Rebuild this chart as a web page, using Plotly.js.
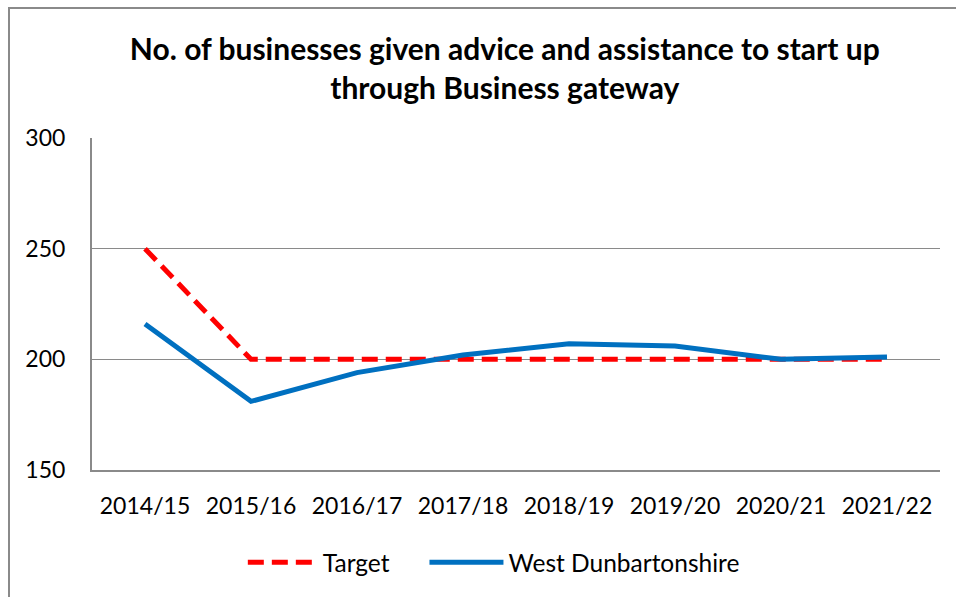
<!DOCTYPE html>
<html>
<head>
<meta charset="utf-8">
<script src="https://cdn.plot.ly/plotly-3.0.1.min.js"></script>
<style>
html,body{margin:0;padding:0;background:#fff;overflow:hidden;}
#chart{position:absolute;left:0;top:0;width:956px;height:597px;}
#frame{position:absolute;left:8px;top:7px;width:1000px;height:700px;border:2px solid #8a8a8a;pointer-events:none;}
</style>
</head>
<body>
<div id="chart"></div>
<div id="frame"></div>
<script>
const categories = ["2014/15","2015/16","2016/17","2017/18","2018/19","2019/20","2020/21","2021/22"];
const targetValues = [250, 200, 200, 200, 200, 200, 200, 200];
const westDunbartonshire = [216, 181, 194, 202, 207, 206, 200, 201];
const yTicks = [150, 200, 250, 300];

const fontFamily = "Lato, 'Open Sans', sans-serif";

const traces = [
  {
    x: categories, y: targetValues, name: "Target", type: "scatter", mode: "lines",
    line: {color: "#ff0000", width: 5, dash: "16px,8px"}, legend: "legend"
  },
  {
    x: categories, y: westDunbartonshire, name: "West Dunbartonshire", type: "scatter", mode: "lines",
    line: {color: "#0070c0", width: 5}, legend: "legend2"
  }
];

const legendBase = {
  orientation: "h", xanchor: "left", xref: "container",
  y: 0.058, yref: "container", yanchor: "middle",
  font: {size: 24.5, family: fontFamily},
  bgcolor: "rgba(0,0,0,0)"
};

const layout = {
  width: 956, height: 597,
  margin: {l: 92, r: 16, t: 138, b: 127},
  paper_bgcolor: "#ffffff", plot_bgcolor: "#ffffff",
  font: {family: fontFamily, color: "#000000", size: 23},
  title: {
    text: "No. of businesses given advice and assistance to start up<br>through Business gateway",
    font: {family: fontFamily, size: 30, weight: "bold", color: "#000"},
    x: 0.528, xref: "container", xanchor: "center", y: 0.900, yref: "container", yanchor: "middle"
  },
  xaxis: {
    type: "category", range: [-0.5, 7.5], showgrid: false, zeroline: false,
    showline: true, linecolor: "#8a8a8a", linewidth: 2, ticks: "",
    ticklabelstandoff: 14, tickfont: {size: 23, family: fontFamily}
  },
  yaxis: {
    range: [150, 300], tickvals: yTicks, ticktext: yTicks.map(String),
    showgrid: true, gridcolor: "#8a8a8a", gridwidth: 1.5, zeroline: false,
    showline: true, linecolor: "#8a8a8a", linewidth: 2, ticks: "",
    ticklabelstandoff: 20, tickfont: {size: 23, family: fontFamily}
  },
  showlegend: true,
  legend: Object.assign({}, legendBase, {x: 0.254, itemwidth: 70}),
  legend2: Object.assign({}, legendBase, {x: 0.444, itemwidth: 74})
};

Plotly.newPlot("chart", traces, layout, {displayModeBar: false, staticPlot: true});
</script>
</body>
</html>
